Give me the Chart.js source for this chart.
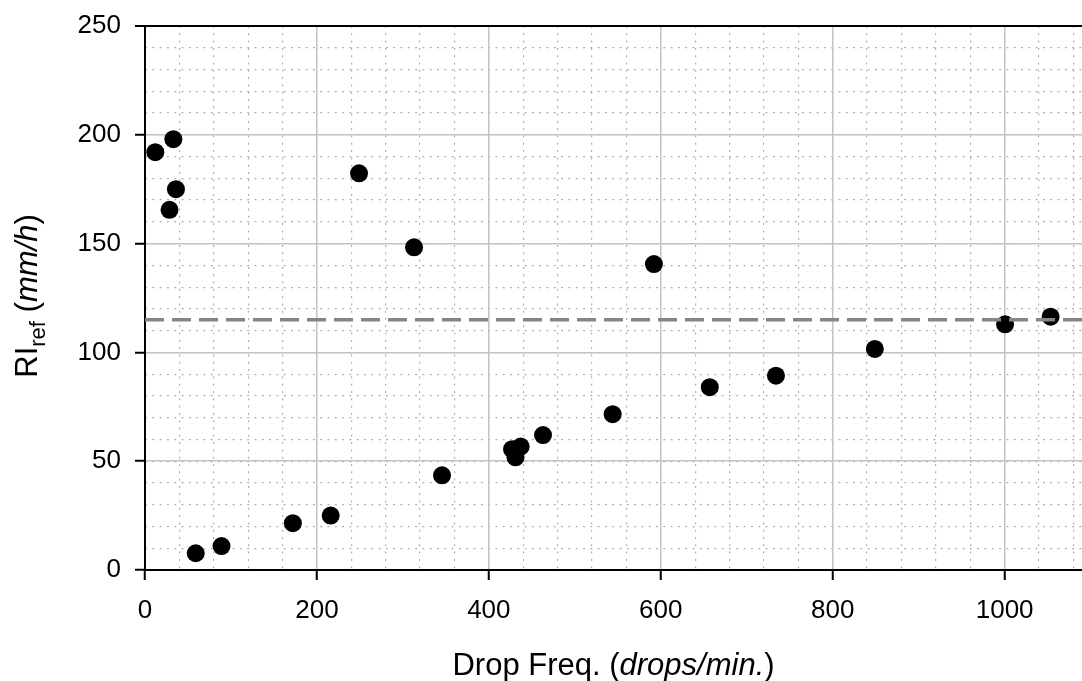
<!DOCTYPE html>
<html>
<head>
<meta charset="utf-8">
<script src="https://cdn.jsdelivr.net/npm/chart.js@4.4.1/dist/chart.umd.min.js"></script>
<style>
  html, body { margin: 0; padding: 0; background: #fff; }
  #c { display: block; }
</style>
</head>
<body>
<canvas id="c" width="1082" height="681"></canvas>
<script>
// ---- data ----
const dropFreq = [12, 33, 36, 28.5, 59, 89, 172, 216, 249, 313, 345.5, 427, 431, 437, 463, 544, 592, 657, 734, 849, 1000.5, 1053.5];
const rainRef  = [192, 198, 175, 165.5, 7.7, 11, 21.5, 25, 182.3, 148.3, 43.5, 55.5, 51.8, 56.7, 62, 71.6, 140.6, 84, 89.3, 101.6, 112.9, 116.4];
const refLevel = 115;
const xRange = [0, 1090];
const yRange = [0, 250];
const xMajorStep = 200, xMinorStep = 40;
const yMajorStep = 50, yMinorStep = 10;

const FONT = '"Liberation Sans", Arial, Helvetica, sans-serif';

const points = dropFreq.map((x, i) => ({ x: x, y: rainRef[i] }));
const refLine = [{ x: xRange[0], y: refLevel }, { x: xRange[1], y: refLevel }];

const titlePlugin = {
  id: 'axisTitles',
  afterDraw(chart) {
    const ctx = chart.ctx;
    const ca = chart.chartArea;
    ctx.save();
    ctx.fillStyle = '#000';
    ctx.textBaseline = 'alphabetic';
    ctx.textAlign = 'left';
    // x title: mixed normal / italic
    const segsX = [
      { t: 'Drop Freq. (', f: '31px ' + FONT, dy: 0 },
      { t: 'drops/min.', f: 'italic 31px ' + FONT, dy: 0 },
      { t: ')', f: '31px ' + FONT, dy: 0 }
    ];
    let w = 0;
    segsX.forEach(s => { ctx.font = s.f; s.w = ctx.measureText(s.t).width; w += s.w; });
    let x = (ca.left + ca.right) / 2 - w / 2;
    segsX.forEach(s => { ctx.font = s.f; ctx.fillText(s.t, x, 675 + s.dy); x += s.w; });

    // y title: RI with subscript ref, then italic (mm/h)
    const segsY = [
      { t: 'RI', f: '31px ' + FONT, dy: 0 },
      { t: 'ref', f: '22px ' + FONT, dy: 8 },
      { t: ' (', f: '31px ' + FONT, dy: 0 },
      { t: 'mm/h', f: 'italic 31px ' + FONT, dy: 0 },
      { t: ')', f: '31px ' + FONT, dy: 0 }
    ];
    w = 0;
    segsY.forEach(s => { ctx.font = s.f; s.w = ctx.measureText(s.t).width; w += s.w; });
    const cy = 296;
    ctx.translate(37, cy + w / 2);
    ctx.rotate(-Math.PI / 2);
    x = 0;
    segsY.forEach(s => { ctx.font = s.f; ctx.fillText(s.t, x, s.dy); x += s.w; });
    ctx.restore();
  }
};

new Chart(document.getElementById('c'), {
  data: {
    datasets: [
      {
        type: 'line',
        label: 'reference',
        data: refLine,
        borderColor: '#858585',
        borderWidth: 3.5,
        borderDash: [19, 8],
        pointRadius: 0,
        fill: false,
        order: 0
      },
      {
        type: 'scatter',
        label: 'RIref',
        data: points,
        backgroundColor: '#000',
        borderColor: '#000',
        borderWidth: 0,
        pointRadius: 9,
        pointHoverRadius: 9,
        order: 1
      }
    ]
  },
  options: {
    responsive: false,
    animation: false,
    layout: { autoPadding: false, padding: { top: 26, right: 0, left: 0, bottom: 0 } },
    plugins: { legend: { display: false }, tooltip: { enabled: false } },
    scales: {
      xMinor: {
        type: 'linear', position: 'top',
        min: xRange[0], max: xRange[1],
        ticks: { display: false, stepSize: xMinorStep, includeBounds: false },
        grid: { color: '#b0b0b0', lineWidth: 1.2, drawTicks: false },
        border: { display: false, dash: [2, 5.3] },
        afterFit(s) { s.height = 0; s.paddingLeft = 0; s.paddingRight = 0; }
      },
      yMinor: {
        type: 'linear', position: 'right',
        min: yRange[0], max: yRange[1],
        ticks: { display: false, stepSize: yMinorStep, includeBounds: false },
        grid: { color: '#b0b0b0', lineWidth: 1.2, drawTicks: false },
        border: { display: false, dash: [2, 5.3] },
        afterFit(s) { s.width = 0; s.paddingTop = 0; s.paddingBottom = 0; }
      },
      x: {
        type: 'linear', position: 'bottom',
        min: xRange[0], max: xRange[1],
        ticks: {
          stepSize: xMajorStep, includeBounds: false,
          font: { family: FONT, size: 26 }, color: '#000', padding: 15,
          callback: v => String(v)
        },
        grid: { color: '#c4c4c4', lineWidth: 1.5, tickColor: '#000', tickLength: 10, tickWidth: 2 },
        border: { color: '#000', width: 2 },
        afterFit(s) { s.height = 111; s.paddingLeft = 0; s.paddingRight = 0; }
      },
      y: {
        type: 'linear', position: 'left',
        min: yRange[0], max: yRange[1],
        ticks: {
          stepSize: yMajorStep, includeBounds: false,
          font: { family: FONT, size: 26 }, color: '#000', padding: 14,
          callback: v => String(v)
        },
        grid: {
          color: c => (c.tick && c.tick.value === yRange[1]) ? '#000' : '#c4c4c4',
          lineWidth: c => (c.tick && c.tick.value === yRange[1]) ? 2 : 1.5,
          tickColor: '#000', tickLength: 10, tickWidth: 2
        },
        border: { color: '#000', width: 2 },
        afterFit(s) { s.width = 145; s.paddingTop = 0; s.paddingBottom = 0; }
      }
    }
  },
  plugins: [titlePlugin]
});
</script>
</body>
</html>
